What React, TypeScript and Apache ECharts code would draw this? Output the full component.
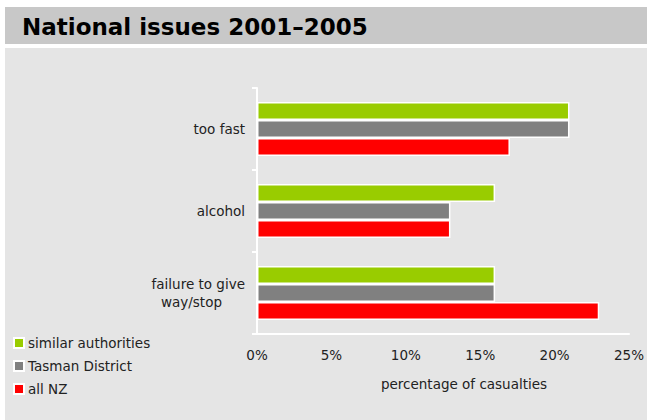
import React, { useEffect, useRef } from "react";
import * as echarts from "echarts";

const categories = ["too fast", "alcohol", "failure to give way/stop"];
const similarAuthorities = [21, 16, 16];
const tasmanDistrict = [21, 13, 16];
const allNZ = [17, 13, 23];
const xTicks = [0, 5, 10, 15, 20, 25];

const FONT = "DejaVu Sans, Verdana, sans-serif";
const FS = 13.5;

export default function App() {
  const ref = useRef<HTMLDivElement>(null);
  useEffect(() => {
    document.body.style.margin = "0";
    const chart = echarts.init(ref.current!, null, { renderer: "svg" });
    const barStyle = (color: string) => ({
      color,
      borderColor: "#ffffff",
      borderWidth: 1.5,
    });
    chart.setOption({
      animation: false,
      backgroundColor: "#ffffff",
      textStyle: { fontFamily: FONT },
      graphic: [
        { type: "rect", shape: { x: 5, y: 7, width: 642, height: 37 }, style: { fill: "#c8c8c8" }, z: -10 },
        { type: "rect", shape: { x: 5, y: 48, width: 642, height: 372 }, style: { fill: "#e5e5e5" }, z: -10 },
        {
          type: "text",
          x: 22,
          y: 27,
          style: {
            text: "National issues 2001\u20132005",
            fontFamily: FONT,
            fontWeight: "bold",
            fontSize: 23,
            fill: "#000000",
            verticalAlign: "middle",
          },
        },
        {
          type: "text",
          x: 464,
          y: 384,
          style: {
            text: "percentage of casualties",
            fontFamily: FONT,
            fontSize: FS,
            fill: "#222222",
            align: "center",
            verticalAlign: "middle",
          },
        },
      ],
      legend: {
        orient: "vertical",
        left: 13,
        top: 336,
        padding: 0,
        itemWidth: 10,
        itemHeight: 10,
        itemGap: 9,
        icon: "rect",
        textStyle: { fontFamily: FONT, fontSize: FS, color: "#222222", padding: [0, 0, 0, -1] },
        data: ["similar authorities", "Tasman District", "all NZ"],
      },
      grid: { left: 257, right: 15, top: 88, bottom: 86, containLabel: false },
      xAxis: {
        type: "value",
        min: xTicks[0],
        max: xTicks[xTicks.length - 1],
        interval: 5,
        axisLine: { show: true, lineStyle: { color: "#ffffff", width: 2 } },
        axisTick: { show: false },
        splitLine: { show: false },
        axisLabel: {
          formatter: "{value}%",
          fontFamily: FONT,
          fontSize: FS,
          color: "#222222",
          margin: 14,
        },
      },
      yAxis: {
        type: "category",
        inverse: true,
        data: categories,
        axisLine: { show: true, lineStyle: { color: "#ffffff", width: 2 } },
        axisTick: { show: true, length: 5, lineStyle: { color: "#ffffff", width: 2 } },
        axisLabel: {
          fontFamily: FONT,
          fontSize: FS,
          color: "#222222",
          margin: 12,
          formatter: (v: string) =>
            v === "failure to give way/stop" ? "{a|failure to give}\n{b|way/stop}" : v,
          rich: {
            a: { fontFamily: FONT, fontSize: FS, color: "#222222", lineHeight: 18 },
            b: { fontFamily: FONT, fontSize: FS, color: "#222222", lineHeight: 18, padding: [0, 23, 0, 0] },
          },
        },
      },
      series: [
        { name: "similar authorities", type: "bar", data: similarAuthorities, itemStyle: barStyle("#99cc00"), barWidth: 18, barGap: "0%" },
        { name: "Tasman District", type: "bar", data: tasmanDistrict, itemStyle: barStyle("#808080"), barWidth: 18, barGap: "0%" },
        { name: "all NZ", type: "bar", data: allNZ, itemStyle: barStyle("#ff0000"), barWidth: 18, barGap: "0%" },
      ],
    });
    return () => chart.dispose();
  }, []);
  return (
    <div
      ref={ref}
      style={{ position: "absolute", left: 0, top: 0, width: 647, height: 420 }}
    />
  );
}
